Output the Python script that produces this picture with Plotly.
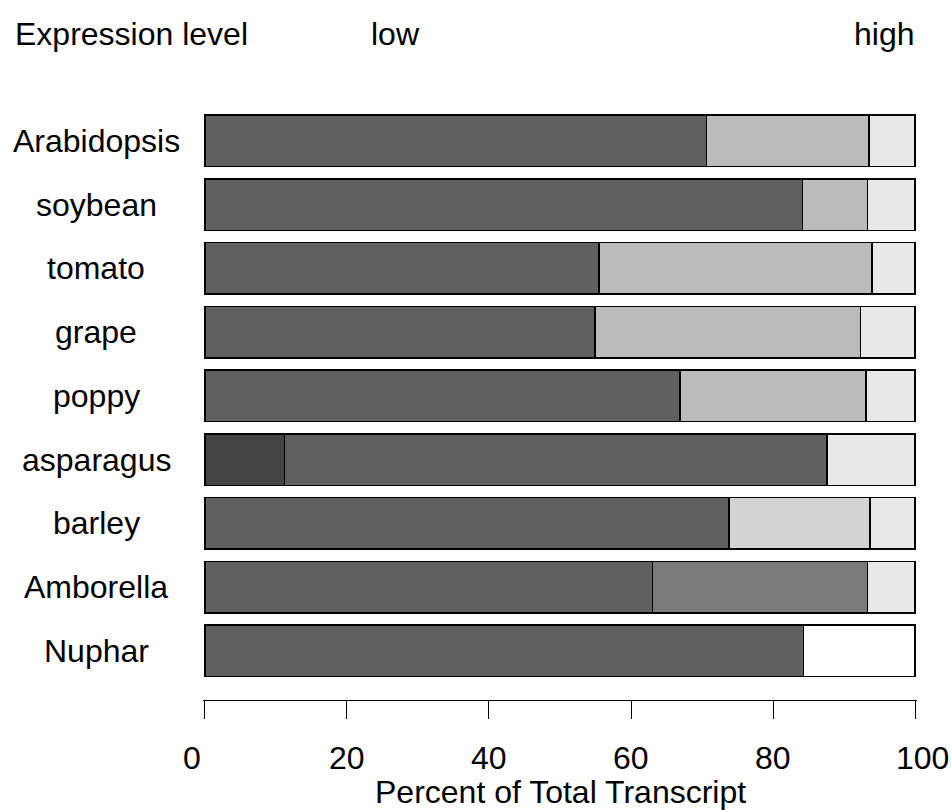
import plotly.graph_objects as go

species = ["Arabidopsis", "soybean", "tomato", "grape", "poppy",
           "asparagus", "barley", "Amborella", "Nuphar"]

# Expression-level segments (percent of total transcript), low -> high
level_colors = ["#434343", "#606060", "#7a7a7a", "#bbbbbb", "#d3d3d3", "#e8e8e8", "#ffffff"]
lvl1 = [0, 0, 0, 0, 0, 11.2, 0, 0, 0]
lvl2 = [70.6, 84.1, 55.5, 54.9, 66.9, 76.4, 73.8, 63.0, 84.3]
lvl3 = [0, 0, 0, 0, 0, 0, 0, 30.3, 0]
lvl4 = [22.9, 9.2, 38.4, 37.4, 26.2, 0, 0, 0, 0]
lvl5 = [0, 0, 0, 0, 0, 0, 19.8, 0, 0]
lvl6 = [6.5, 6.7, 6.1, 7.7, 6.9, 12.4, 6.4, 6.7, 0]
lvl7 = [0, 0, 0, 0, 0, 0, 0, 0, 15.7]
levels = [lvl1, lvl2, lvl3, lvl4, lvl5, lvl6, lvl7]

tick_vals = [0, 20, 40, 60, 80, 100]
tick_text = ["0", "20", "40", "60", "80", "100"]

FONT = "Liberation Sans, Arial, Helvetica, sans-serif"
FS = 32
TXT = dict(size=FS, color="#000", family=FONT)

fig = go.Figure()
for vals, col in zip(levels, level_colors):
    fig.add_trace(go.Bar(
        y=species, x=vals, orientation="h",
        marker=dict(color=col, line=dict(color="#000000", width=1.5)),
        showlegend=False, hoverinfo="x+y",
    ))

PLOT_L, PLOT_W = 203, 714

annotations = []
for s in species:
    annotations.append(dict(x=(96 - PLOT_L) / PLOT_W, xref="paper", y=s, yref="y", text=s,
                            showarrow=False, xanchor="center", yanchor="middle", font=TXT))

# tick labels (end labels nudged outward as in the original)
end_shift = {0: -13, 100: 7}
for v, t in zip(tick_vals, tick_text):
    annotations.append(dict(x=v, xref="x", y=0, yref="paper", yshift=-58,
                            xshift=end_shift.get(v, 0), text=t, showarrow=False,
                            xanchor="center", yanchor="middle", font=TXT))

annotations += [
    dict(x=(13 - PLOT_L) / PLOT_W, xref="paper", y=1.127, yref="paper", text="Expression level",
         showarrow=False, xanchor="left", yanchor="middle", font=TXT),
    dict(x=(395 - PLOT_L) / PLOT_W, xref="paper", y=1.127, yref="paper", text="low",
         showarrow=False, xanchor="center", yanchor="middle", font=TXT),
    dict(x=1.0, xref="paper", y=1.127, yref="paper", text="high",
         showarrow=False, xanchor="right", yanchor="middle", font=TXT),
    dict(x=0.5, xref="paper", y=0, yref="paper", yshift=-92, text="Percent of Total Transcript",
         showarrow=False, xanchor="center", yanchor="middle", font=TXT),
]

fig.update_layout(
    barmode="stack",
    width=951, height=810,
    margin=dict(l=PLOT_L, r=951 - PLOT_L - PLOT_W, t=109, b=110),
    paper_bgcolor="white", plot_bgcolor="white",
    bargap=0.19,
    annotations=annotations,
    font=dict(family=FONT, size=FS, color="#000"),
)
fig.update_xaxes(range=[-0.25, 100.25], tickvals=tick_vals, showticklabels=False,
                 showline=True, linecolor="#000", linewidth=1.2,
                 ticks="outside", ticklen=18, tickwidth=1.2, tickcolor="#000",
                 showgrid=False, zeroline=False)
fig.update_yaxes(categoryorder="array", categoryarray=species,
                 range=[8.77, -0.5], showticklabels=False, showgrid=False,
                 zeroline=False, showline=False, ticks="")

fig.write_html("out.html")
